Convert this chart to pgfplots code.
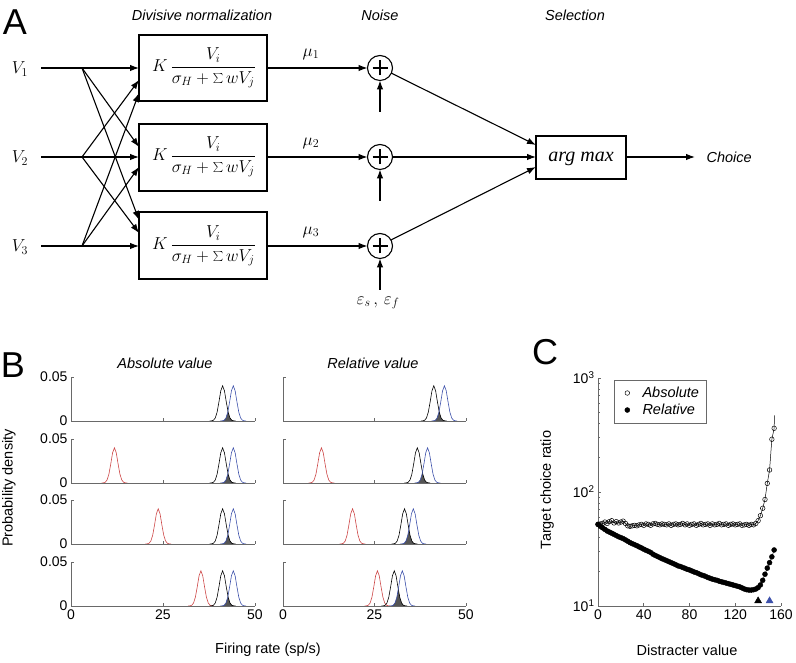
\documentclass[border=0pt]{standalone}
\usepackage{fontspec}
\setmainfont{Liberation Sans}
\newfontfamily\serifit{Liberation Serif}
\usepackage{pgfplots}
\usepackage{pgfplotstable}
\pgfplotsset{compat=1.18}
\usetikzlibrary{arrows.meta}

\definecolor{redc}{RGB}{205,70,70}
\definecolor{bluec}{RGB}{60,80,170}
\definecolor{shade}{RGB}{85,85,85}
\definecolor{axc}{RGB}{105,105,105}

% firing-rate densities (panel B)
\pgfplotstableread[row sep=\\]{x y\\ 37.7 0\\ 38.2 0.0002\\ 38.7 0.0008\\ 39.2 0.0034\\ 39.7 0.0100\\ 40.2 0.0216\\ 40.7 0.0343\\ 41.2 0.0400\\ 41.7 0.0343\\ 42.2 0.0216\\ 42.7 0.0100\\ 43.2 0.0034\\ 43.7 0.0008\\ 44.2 0.0002\\ 44.7 0\\}\blackA
\pgfplotstableread[row sep=\\]{x y\\ 40.6 0\\ 41.1 0.0002\\ 41.6 0.0008\\ 42.1 0.0034\\ 42.6 0.0100\\ 43.1 0.0216\\ 43.6 0.0343\\ 44.1 0.0400\\ 44.6 0.0343\\ 45.1 0.0216\\ 45.6 0.0100\\ 46.1 0.0034\\ 46.6 0.0008\\ 47.1 0.0002\\ 47.6 0\\}\blueA
\pgfplotstableread[row sep=\\]{x y\\ 40.6 0\\ 41.1 0.0002\\ 41.6 0.0008\\ 42.1 0.0034\\ 42.6 0.0100\\ 42.65 0.0109\\ 42.7 0.0100\\ 43.2 0.0034\\ 43.7 0.0008\\ 44.2 0.0002\\ 44.7 0\\}\ovA
\pgfplotstableread[row sep=\\]{x y\\ 8.3 0\\ 8.8 0.0002\\ 9.3 0.0008\\ 9.8 0.0034\\ 10.3 0.0100\\ 10.8 0.0216\\ 11.3 0.0343\\ 11.8 0.0400\\ 12.3 0.0343\\ 12.8 0.0216\\ 13.3 0.0100\\ 13.8 0.0034\\ 14.3 0.0008\\ 14.8 0.0002\\ 15.3 0\\}\redAb
\pgfplotstableread[row sep=\\]{x y\\ 20.2 0\\ 20.7 0.0002\\ 21.2 0.0008\\ 21.7 0.0034\\ 22.2 0.0100\\ 22.7 0.0216\\ 23.2 0.0343\\ 23.7 0.0400\\ 24.2 0.0343\\ 24.7 0.0216\\ 25.2 0.0100\\ 25.7 0.0034\\ 26.2 0.0008\\ 26.7 0.0002\\ 27.2 0\\}\redAc
\pgfplotstableread[row sep=\\]{x y\\ 31.8 0\\ 32.3 0.0002\\ 32.8 0.0008\\ 33.3 0.0034\\ 33.8 0.0100\\ 34.3 0.0216\\ 34.8 0.0343\\ 35.3 0.0400\\ 35.8 0.0343\\ 36.3 0.0216\\ 36.8 0.0100\\ 37.3 0.0034\\ 37.8 0.0008\\ 38.3 0.0002\\ 38.8 0\\}\redAd

\pgfplotstableread[row sep=\\]{x y\\ 7.0 0\\ 7.5 0.0002\\ 8.0 0.0008\\ 8.5 0.0034\\ 9.0 0.0100\\ 9.5 0.0216\\ 10.0 0.0343\\ 10.5 0.0400\\ 11.0 0.0343\\ 11.5 0.0216\\ 12.0 0.0100\\ 12.5 0.0034\\ 13.0 0.0008\\ 13.5 0.0002\\ 14.0 0\\}\redRb
\pgfplotstableread[row sep=\\]{x y\\ 33.2 0\\ 33.7 0.0002\\ 34.2 0.0008\\ 34.7 0.0034\\ 35.2 0.0100\\ 35.7 0.0216\\ 36.2 0.0343\\ 36.7 0.0400\\ 37.2 0.0343\\ 37.7 0.0216\\ 38.2 0.0100\\ 38.7 0.0034\\ 39.2 0.0008\\ 39.7 0.0002\\ 40.2 0\\}\blackRb
\pgfplotstableread[row sep=\\]{x y\\ 36.0 0\\ 36.5 0.0002\\ 37.0 0.0008\\ 37.5 0.0034\\ 38.0 0.0100\\ 38.5 0.0216\\ 39.0 0.0343\\ 39.5 0.0400\\ 40.0 0.0343\\ 40.5 0.0216\\ 41.0 0.0100\\ 41.5 0.0034\\ 42.0 0.0008\\ 42.5 0.0002\\ 43.0 0\\}\blueRb
\pgfplotstableread[row sep=\\]{x y\\ 36.0 0\\ 36.5 0.0002\\ 37.0 0.0008\\ 37.5 0.0034\\ 38.0 0.0100\\ 38.1 0.0119\\ 38.2 0.0100\\ 38.7 0.0034\\ 39.2 0.0008\\ 39.7 0.0002\\ 40.2 0\\}\ovRb
\pgfplotstableread[row sep=\\]{x y\\ 15.5 0\\ 16.0 0.0002\\ 16.5 0.0008\\ 17.0 0.0034\\ 17.5 0.0100\\ 18.0 0.0216\\ 18.5 0.0343\\ 19.0 0.0400\\ 19.5 0.0343\\ 20.0 0.0216\\ 20.5 0.0100\\ 21.0 0.0034\\ 21.5 0.0008\\ 22.0 0.0002\\ 22.5 0\\}\redRc
\pgfplotstableread[row sep=\\]{x y\\ 29.7 0\\ 30.2 0.0002\\ 30.7 0.0008\\ 31.2 0.0034\\ 31.7 0.0100\\ 32.2 0.0216\\ 32.7 0.0343\\ 33.2 0.0400\\ 33.7 0.0343\\ 34.2 0.0216\\ 34.7 0.0100\\ 35.2 0.0034\\ 35.7 0.0008\\ 36.2 0.0002\\ 36.7 0\\}\blackRc
\pgfplotstableread[row sep=\\]{x y\\ 32.1 0\\ 32.6 0.0002\\ 33.1 0.0008\\ 33.6 0.0034\\ 34.1 0.0100\\ 34.6 0.0216\\ 35.1 0.0343\\ 35.6 0.0400\\ 36.1 0.0343\\ 36.6 0.0216\\ 37.1 0.0100\\ 37.6 0.0034\\ 38.1 0.0008\\ 38.6 0.0002\\ 39.1 0\\}\blueRc
\pgfplotstableread[row sep=\\]{x y\\ 32.1 0\\ 32.6 0.0002\\ 33.1 0.0008\\ 33.6 0.0034\\ 34.1 0.0100\\ 34.4 0.0164\\ 34.7 0.0100\\ 35.2 0.0034\\ 35.7 0.0008\\ 36.2 0.0002\\ 36.7 0\\}\ovRc
\pgfplotstableread[row sep=\\]{x y\\ 22.3 0\\ 22.8 0.0002\\ 23.3 0.0008\\ 23.8 0.0034\\ 24.3 0.0100\\ 24.8 0.0216\\ 25.3 0.0343\\ 25.8 0.0400\\ 26.3 0.0343\\ 26.8 0.0216\\ 27.3 0.0100\\ 27.8 0.0034\\ 28.3 0.0008\\ 28.8 0.0002\\ 29.3 0\\}\redRd
\pgfplotstableread[row sep=\\]{x y\\ 26.9 0\\ 27.4 0.0002\\ 27.9 0.0008\\ 28.4 0.0034\\ 28.9 0.0100\\ 29.4 0.0216\\ 29.9 0.0343\\ 30.4 0.0400\\ 30.9 0.0343\\ 31.4 0.0216\\ 31.9 0.0100\\ 32.4 0.0034\\ 32.9 0.0008\\ 33.4 0.0002\\ 33.9 0\\}\blackRd
\pgfplotstableread[row sep=\\]{x y\\ 29.1 0\\ 29.6 0.0002\\ 30.1 0.0008\\ 30.6 0.0034\\ 31.1 0.0100\\ 31.6 0.0216\\ 32.1 0.0343\\ 32.6 0.0400\\ 33.1 0.0343\\ 33.6 0.0216\\ 34.1 0.0100\\ 34.6 0.0034\\ 35.1 0.0008\\ 35.6 0.0002\\ 36.1 0\\}\blueRd
\pgfplotstableread[row sep=\\]{x y\\ 29.1 0\\ 29.6 0.0002\\ 30.1 0.0008\\ 30.6 0.0034\\ 31.1 0.0100\\ 31.5 0.0190\\ 31.9 0.0100\\ 32.4 0.0034\\ 32.9 0.0008\\ 33.4 0.0002\\ 33.9 0\\}\ovRd

% target choice ratio (panel C)
\pgfplotstableread[row sep=\\]{x y\\
0 52\\ 2 52.5\\ 4 53\\ 6 54.5\\ 8 53\\ 10 55\\ 12 56\\ 14 53.5\\ 16 55\\ 18 53.5\\ 20 54.5\\ 22 55.5\\ 24 53\\ 26 50.5\\ 28 50\\ 30 50.5\\ 32 51\\ 34 50.5\\ 36 51.5\\ 38 52\\
40 51\\ 42 52.5\\ 44 52\\ 46 51\\ 48 52.5\\ 50 53\\ 52 52\\ 54 51.5\\ 56 52.5\\ 58 52\\ 60 51.5\\ 62 52.5\\ 64 51\\ 66 52\\ 68 52.5\\ 70 51.5\\ 72 52\\ 74 53\\ 76 51.5\\ 78 52.5\\
80 51\\ 82 52\\ 84 52.5\\ 86 51\\ 88 52\\ 90 53\\ 92 51.5\\ 94 52\\ 96 52.5\\ 98 51\\ 100 52.5\\ 102 51.5\\ 104 52\\ 106 53\\ 108 51.5\\ 110 52\\ 112 52.5\\ 114 51\\ 116 52\\ 118 52.5\\
120 51.5\\ 122 52\\ 124 52.5\\ 126 51\\ 128 51.5\\ 130 52\\ 132 51\\ 134 52\\ 136 51.5\\ 138 53\\ 140 56\\ 142 62\\ 144 72\\ 146 86\\ 148 119\\ 150 156\\ 152 290\\ 154 362\\}\absC
\pgfplotstableread[row sep=\\]{x y\\
0 52\\ 2 50\\ 4 48.5\\ 6 47\\ 8 45.5\\ 10 44.5\\ 12 43.5\\ 14 42.5\\ 16 41.5\\ 18 40.5\\ 20 39.8\\ 22 39\\ 24 38\\ 26 37\\ 28 36\\ 30 35.2\\ 32 34.5\\ 34 33.8\\ 36 33\\ 38 32.3\\
40 31.5\\ 42 30.8\\ 44 30.2\\ 46 29.5\\ 48 28.5\\ 50 27.8\\ 52 27.2\\ 54 26.6\\ 56 26\\ 58 25.5\\ 60 25\\ 62 24.5\\ 64 24\\ 66 23.5\\ 68 23\\ 70 22.5\\ 72 22.2\\ 74 21.8\\ 76 21.4\\ 78 21\\
80 20.7\\ 82 20.3\\ 84 19.9\\ 86 19.6\\ 88 19.2\\ 90 18.8\\ 92 18.5\\ 94 18.2\\ 96 17.8\\ 98 17.5\\ 100 17.2\\ 102 17\\ 104 16.8\\ 106 16.5\\ 108 16.3\\ 110 16.1\\ 112 15.9\\ 114 15.7\\ 116 15.5\\ 118 15.3\\
120 15.1\\ 122 14.9\\ 124 14.7\\ 126 14.4\\ 128 14.1\\ 130 13.9\\ 132 13.8\\ 134 13.8\\ 136 13.9\\ 138 14.1\\ 140 14.5\\ 142 15.3\\ 144 16.8\\ 146 19\\ 148 21.5\\ 150 24\\ 152 27\\ 154 31\\}\relC

\pgfplotsset{
  bax/.style={scale only axis, width=184pt, height=44pt, anchor=south west,
    xmin=0, xmax=50, ymin=0, ymax=0.05, scaled y ticks=false,
    axis x line*=bottom, axis y line*=left, tick pos=left,
    axis line style={axc, line width=0.6pt},
    tick style={axc, line width=0.6pt}, tick align=inside, major tick length=2.5pt,
    xtick={0,25,50}, ytick={0,0.05}, xticklabels={}, yticklabels={},
    tick label style={font=\fontsize{14}{16}\selectfont},
    every axis plot/.append style={line width=0.6pt, no marks}},
}

\tikzset{arr/.style={line width=1.1pt, -{Latex[length=9pt,width=6.5pt]}},
         bx/.style={line width=1.2pt}}

\begin{document}
\begin{tikzpicture}
\useasboundingbox (0,0) rectangle (796pt,663pt);

\begin{scope}[x=1pt,y=1pt]
% ---------- panel letters and headings
\node[font=\fontsize{36}{40}\selectfont] at (15,641) {A};
\node[font=\fontsize{36}{40}\selectfont] at (13,298) {B};
\node[font=\fontsize{36}{40}\selectfont] at (545,311) {C};
\node[font=\itshape\fontsize{14.5}{17}\selectfont] at (202,648) {Divisive normalization};
\node[font=\itshape\fontsize{14.5}{17}\selectfont] at (380,648) {Noise};
\node[font=\itshape\fontsize{14.5}{17}\selectfont] at (575,648) {Selection};

% ---------- panel A: model diagram
\node[font=\fontsize{17}{20}\selectfont] at (20,594) {$V_1$};
\node[font=\fontsize{17}{20}\selectfont] at (20,505) {$V_2$};
\node[font=\fontsize{17}{20}\selectfont] at (20,416) {$V_3$};
\draw[arr] (41,595) -- (139,595);
\draw[arr] (41,506) -- (139,506);
\draw[arr] (41,417) -- (139,417);
\draw[arr] (82,595) -- (139,516);
\draw[arr] (82,595) -- (139,443);
\draw[arr] (82,506) -- (139,583);
\draw[arr] (82,506) -- (139,430);
\draw[arr] (82,417) -- (139,570);
\draw[arr] (82,417) -- (139,496);
\draw[bx] (139,562) rectangle (267,628);
\draw[bx] (139,472) rectangle (267,539);
\draw[bx] (139,384) rectangle (267,451);
\foreach \yy in {595,506,417}{
  \node[font=\fontsize{17}{20}\selectfont] at (204,\yy) {$\displaystyle K\,\frac{V_i}{\sigma_H+\sum wV_j}$};
  \draw[arr] (267,\yy) -- (367.5,\yy);
  \draw[line width=1.1pt] (380,\yy) circle (12.5);
  \draw[line width=2.6pt] (372.5,\yy) -- (387.5,\yy) (380,\yy-7.5) -- (380,\yy+7.5);
  \draw[arr] (380,\yy-44) -- (380,\yy-12.5);
}
\node[font=\fontsize{18}{20}\selectfont] at (311,609) {$\mu_1$};
\node[font=\fontsize{18}{20}\selectfont] at (311,520) {$\mu_2$};
\node[font=\fontsize{18}{20}\selectfont] at (311,431) {$\mu_3$};
\node[font=\fontsize{17}{20}\selectfont] at (378,360) {$\varepsilon_s\,,\,\varepsilon_f$};
\draw[arr] (391,590) -- (536,518);
\draw[arr] (392.5,506) -- (536,506);
\draw[arr] (391,423) -- (536,496);
\draw[bx] (536,484) rectangle (626,527);
\node[font=\serifit\itshape\fontsize{20}{22}\selectfont] at (581,504) {arg max};
\draw[arr] (626,506) -- (695,506);
\node[anchor=west, font=\itshape\fontsize{14.5}{17}\selectfont] at (703,506) {Choice};

% ---------- panel B and C labels
\node[font=\itshape\fontsize{14.5}{17}\selectfont] at (165,300) {Absolute value};
\node[font=\itshape\fontsize{14.5}{17}\selectfont] at (373,300) {Relative value};
\node[font=\fontsize{14.5}{17}\selectfont] at (268,13) {Firing rate (sp/s)};
\node[rotate=90, font=\fontsize{14.5}{17}\selectfont] at (9,175) {Probability density};
\node[rotate=90, font=\fontsize{14.5}{17}\selectfont] at (547,173) {Target choice ratio};
\node[font=\fontsize{14.5}{17}\selectfont] at (687,13) {Distracter value};
\end{scope}

% ---------- panel B: absolute value
\begin{axis}[bax, at={(71pt,242pt)}, yticklabels={0,0.05}]
\addplot[fill=shade, draw=none] table {\ovA} \closedcycle;
\addplot[black] table {\blackA};
\addplot[bluec] table {\blueA};
\end{axis}
\begin{axis}[bax, at={(71pt,180pt)}, yticklabels={0,0.05}]
\addplot[fill=shade, draw=none] table {\ovA} \closedcycle;
\addplot[redc] table {\redAb};
\addplot[black] table {\blackA};
\addplot[bluec] table {\blueA};
\end{axis}
\begin{axis}[bax, at={(71pt,119pt)}, yticklabels={0,0.05}]
\addplot[fill=shade, draw=none] table {\ovA} \closedcycle;
\addplot[redc] table {\redAc};
\addplot[black] table {\blackA};
\addplot[bluec] table {\blueA};
\end{axis}
\begin{axis}[bax, at={(71pt,57pt)}, yticklabels={0,0.05}, xticklabels={0,25,50}]
\addplot[fill=shade, draw=none] table {\ovA} \closedcycle;
\addplot[redc] table {\redAd};
\addplot[black] table {\blackA};
\addplot[bluec] table {\blueA};
\end{axis}

% ---------- panel B: relative value
\begin{axis}[bax, at={(283pt,242pt)}, width=183pt]
\addplot[fill=shade, draw=none] table {\ovA} \closedcycle;
\addplot[black] table {\blackA};
\addplot[bluec] table {\blueA};
\end{axis}
\begin{axis}[bax, at={(283pt,180pt)}, width=183pt]
\addplot[fill=shade, draw=none] table {\ovRb} \closedcycle;
\addplot[redc] table {\redRb};
\addplot[black] table {\blackRb};
\addplot[bluec] table {\blueRb};
\end{axis}
\begin{axis}[bax, at={(283pt,119pt)}, width=183pt]
\addplot[fill=shade, draw=none] table {\ovRc} \closedcycle;
\addplot[redc] table {\redRc};
\addplot[black] table {\blackRc};
\addplot[bluec] table {\blueRc};
\end{axis}
\begin{axis}[bax, at={(283pt,57pt)}, width=183pt, xticklabels={0,25,50}]
\addplot[fill=shade, draw=none] table {\ovRd} \closedcycle;
\addplot[redc] table {\redRd};
\addplot[black] table {\blackRd};
\addplot[bluec] table {\blueRd};
\end{axis}

% ---------- panel C
\begin{axis}[scale only axis, width=183pt, height=228pt, at={(598pt,57pt)}, anchor=south west,
    ymode=log, xmin=0, xmax=160, ymin=10, ymax=1000,
    axis x line*=bottom, axis y line*=left, tick pos=left,
    axis line style={axc, line width=0.6pt},
    tick style={axc, line width=0.6pt}, tick align=inside,
    major tick length=3pt, minor tick length=1.8pt,
    xtick={0,40,80,120,160}, xticklabels={0,40,80,120,160},
    ytick={10,100,1000}, yticklabels={10\textsuperscript{1},10\textsuperscript{2},10\textsuperscript{3}},
    minor ytick={20,30,40,50,60,70,80,90,200,300,400,500,600,700,800,900},
    tick label style={font=\fontsize{14}{16}\selectfont},
    legend image code/.code={\path (0pt,0pt) (21pt,0pt); \draw[#1] plot coordinates {(8pt,0pt)};},
    legend style={at={(0.087,0.992)}, anchor=north west, draw=axc,
      font=\itshape\fontsize{14.5}{17}\selectfont, inner xsep=5pt, inner ysep=5pt, row sep=1pt},
    legend cell align=left]
\addplot[black, line width=0.5pt, forget plot] table {\absC};
\addplot[black, line width=0.5pt, forget plot] coordinates {(154,362) (154.3,470)};
\addplot[black, only marks, mark=o, mark size=2.3pt, mark options={line width=0.5pt}] table {\absC};
\addplot[black, line width=0.5pt, forget plot] table {\relC};
\addplot[black, only marks, mark=*, mark size=2.5pt] table {\relC};
\addplot[black, only marks, mark=triangle*, mark size=4pt, forget plot] coordinates {(140,11.1)};
\addplot[bluec, only marks, mark=triangle*, mark size=4pt, forget plot] coordinates {(150,11.1)};
\legend{Absolute, Relative}
\end{axis}
\end{tikzpicture}
\end{document}
